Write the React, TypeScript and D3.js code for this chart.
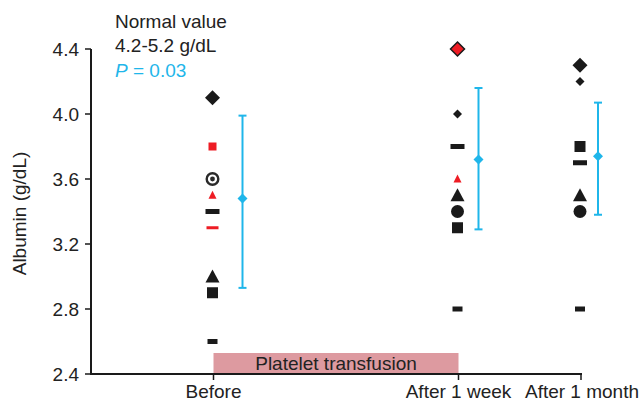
import React from 'react';
import * as d3 from 'd3';

// time points (x position in "slots": before=0, 1 week=2, 1 month=3)
const timeLabels = ['Before', 'After 1 week', 'After 1 month'];
const timeSlots = [0, 2, 3];

// individual albumin values per time point, with the marker each patient used
const beforeValues = [4.1, 3.8, 3.6, 3.5, 3.4, 3.3, 3.0, 2.9, 2.6];
const beforeMarkers = ['diamond', 'squareRed', 'target', 'triangleRed', 'dash', 'dashRed', 'triangle', 'square', 'dashSmall'];
const weekValues = [4.4, 4.0, 3.8, 3.6, 3.5, 3.4, 3.3, 2.8];
const weekMarkers = ['diamondRed', 'diamondSmall', 'dash', 'triangleRed', 'triangle', 'circle', 'square', 'dashSmall'];
const monthValues = [4.3, 4.2, 3.8, 3.7, 3.5, 3.4, 2.8];
const monthMarkers = ['diamond', 'diamondSmall', 'square', 'dash', 'triangle', 'circle', 'dashSmall'];

// mean and spread (blue)
const meanValues = [3.48, 3.72, 3.74];
const upperValues = [3.99, 4.16, 4.07];
const lowerValues = [2.93, 3.29, 3.38];

const yTicks = [2.4, 2.8, 3.2, 3.6, 4.0, 4.4];

const blue = '#1fb6ea';
const red = '#ee1c24';
const ink = '#1a1a1a';
const font = '"Liberation Sans", Arial, sans-serif';

function Marker({ kind, x, y }: { kind: string; x: number; y: number }) {
  const dia = (r: number) => `M${x},${y - r}L${x + r},${y}L${x},${y + r}L${x - r},${y}Z`;
  const tri = (w: number, h: number) => `M${x},${y - h / 2 - 1}L${x + w / 2},${y + h / 2}L${x - w / 2},${y + h / 2}Z`;
  switch (kind) {
    case 'diamond':
      return <path d={dia(7.5)} fill={ink} />;
    case 'diamondSmall':
      return <path d={dia(4.5)} fill={ink} />;
    case 'diamondRed':
      return <path d={dia(7)} fill={red} stroke={ink} strokeWidth={1.5} />;
    case 'square':
      return <rect x={x - 5.5} y={y - 5.5} width={11} height={11} fill={ink} />;
    case 'squareRed':
      return <rect x={x - 4} y={y - 4} width={8} height={8} fill={red} />;
    case 'triangle':
      return <path d={tri(14, 12)} fill={ink} />;
    case 'triangleRed':
      return <path d={tri(8, 7)} fill={red} />;
    case 'circle':
      return <circle cx={x} cy={y} r={6.5} fill={ink} />;
    case 'target':
      return (
        <g>
          <circle cx={x} cy={y} r={5.8} fill="none" stroke="#2a2a2a" strokeWidth={2.4} />
          <circle cx={x} cy={y} r={2.4} fill="#2a2a2a" />
        </g>
      );
    case 'dash':
      return <rect x={x - 7} y={y - 2.5} width={14} height={5} fill={ink} />;
    case 'dashSmall':
      return <rect x={x - 5} y={y - 2.5} width={10} height={5} fill={ink} />;
    case 'dashRed':
      return <rect x={x - 6} y={y - 1.5} width={12} height={3} fill={red} />;
    default:
      return null;
  }
}

export default function App() {
  const width = 643;
  const height = 402;
  const x = d3.scaleLinear().domain([-1, 3]).range([91, 581]);
  const y = d3.scaleLinear().domain([2.4, 4.4]).range([374, 49]);

  const groups = [
    { values: beforeValues, markers: beforeMarkers },
    { values: weekValues, markers: weekMarkers },
    { values: monthValues, markers: monthMarkers },
  ];
  const barOffset = [29, 20, 17];

  return (
    <svg width={width} height={height} style={{ position: 'absolute', left: 0, top: 0, background: '#fff' }} fontFamily={font}>
      {/* platelet transfusion band */}
      <rect x={x(timeSlots[0])} y={y(2.4) - 21} width={x(timeSlots[1]) - x(timeSlots[0])} height={21} fill="#dd9aa0" />
      <text x={(x(timeSlots[0]) + x(timeSlots[1])) / 2} y={y(2.4) - 4} textAnchor="middle" fontSize={19} fill="#222">
        Platelet transfusion
      </text>

      {/* y axis */}
      <line x1={91} x2={91} y1={y(4.4)} y2={y(2.4) + 1} stroke={ink} strokeWidth={2} />
      {yTicks.map((t) => (
        <g key={t}>
          <line x1={85} x2={91} y1={y(t)} y2={y(t)} stroke={ink} strokeWidth={1.5} />
          <text x={79} y={y(t) + 6.5} textAnchor="end" fontSize={19} fill="#222">
            {d3.format('.1f')(t)}
          </text>
        </g>
      ))}
      <text transform={`translate(26,${(y(4.4) + y(2.4)) / 2 + 2}) rotate(-90)`} textAnchor="middle" fontSize={19} fill="#222">
        Albumin (g/dL)
      </text>

      {/* x axis */}
      <line x1={90} x2={x(3) + 1} y1={y(2.4)} y2={y(2.4)} stroke={ink} strokeWidth={2} />
      {timeSlots.map((s, i) => (
        <g key={s}>
          <line x1={x(s)} x2={x(s)} y1={y(2.4)} y2={y(2.4) + 6} stroke={ink} strokeWidth={1.5} />
          <text x={x(s) + (i === 2 ? 1 : 0)} y={y(2.4) + 24} textAnchor="middle" fontSize={19} fill="#222">
            {timeLabels[i]}
          </text>
        </g>
      ))}

      {/* individual values */}
      {groups.map((g, gi) =>
        g.values.map((v, i) => <Marker key={`${gi}-${i}`} kind={g.markers[i]} x={x(timeSlots[gi]) - 1} y={y(v)} />)
      )}

      {/* mean and range */}
      {timeSlots.map((s, i) => {
        const bx = x(s) + barOffset[i];
        return (
          <g key={`m${s}`} stroke={blue} strokeWidth={2}>
            <line x1={bx} x2={bx} y1={y(upperValues[i])} y2={y(lowerValues[i])} />
            <line x1={bx - 4} x2={bx + 4} y1={y(upperValues[i])} y2={y(upperValues[i])} />
            <line x1={bx - 4} x2={bx + 4} y1={y(lowerValues[i])} y2={y(lowerValues[i])} />
            <path
              d={`M${bx},${y(meanValues[i]) - 5}L${bx + 5},${y(meanValues[i])}L${bx},${y(meanValues[i]) + 5}L${bx - 5},${y(meanValues[i])}Z`}
              fill={blue}
              stroke="none"
            />
          </g>
        );
      })}

      {/* annotation */}
      <text x={115} y={28} fontSize={19} fill="#222">Normal value</text>
      <text x={115} y={52} fontSize={19} fill="#222">4.2-5.2 g/dL</text>
      <text x={115} y={77} fontSize={19} fill={blue}>
        <tspan fontStyle="italic">P</tspan> = 0.03
      </text>
    </svg>
  );
}
